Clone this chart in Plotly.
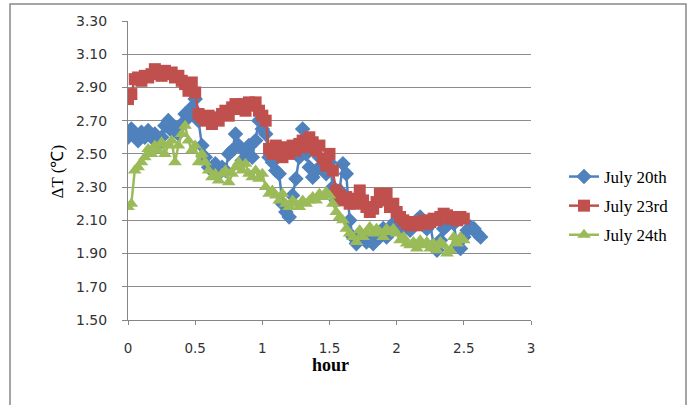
import plotly.graph_objects as go

STEP = 0.025  # hours between samples

july20 = [2.60, 2.65, 2.62, 2.58, 2.63, 2.60, 2.64, 2.60, 2.62, 2.56,
          2.60, 2.67, 2.70, 2.64, 2.66, 2.62, 2.68, 2.74, 2.72, 2.78,
          2.83, 2.70, 2.55, 2.48, 2.42, 2.40, 2.44, 2.38, 2.42, 2.40,
          2.50, 2.52, 2.62, 2.55, 2.46, 2.52, 2.55, 2.48, 2.58, 2.70,
          2.65, 2.62, 2.48, 2.45, 2.40, 2.38, 2.20, 2.15, 2.12, 2.25,
          2.35, 2.48, 2.65, 2.50, 2.42, 2.36, 2.40, 2.48, 2.42, 2.38,
          2.45, 2.30, 2.22, 2.28, 2.44, 2.38, 2.10, 2.00, 1.96, 2.02,
          2.00, 1.97, 1.98, 1.96, 2.02, 2.00, 2.05, 2.00, 2.04, 2.08,
          2.10, 2.05, 2.08, 2.06, 2.04, 2.08, 2.10, 2.12, 2.07, 2.05,
          2.08, 1.95, 1.92, 1.98, 2.05, 2.07, 2.10, 2.08, 1.95, 1.93,
          2.00, 2.04, 2.06, 2.05, 2.02, 2.00]

july23 = [2.83, 2.86, 2.95, 2.96, 2.94, 2.97, 2.96, 2.98, 3.01, 2.99,
          2.97, 3.00, 2.98, 2.99, 2.96, 2.97, 2.94, 2.92, 2.88, 2.93,
          2.87, 2.74, 2.72, 2.70, 2.73, 2.68, 2.72, 2.70, 2.74, 2.76,
          2.73, 2.78, 2.80, 2.77, 2.80, 2.76, 2.81, 2.79, 2.81, 2.76,
          2.73, 2.70, 2.53, 2.50, 2.55, 2.52, 2.48, 2.54, 2.50, 2.55,
          2.52, 2.56, 2.58, 2.54, 2.60, 2.57, 2.52, 2.55, 2.47, 2.43,
          2.50, 2.40, 2.28, 2.25, 2.22, 2.24, 2.20, 2.23, 2.20, 2.28,
          2.22, 2.18, 2.15, 2.17, 2.21, 2.26, 2.22, 2.26, 2.18, 2.20,
          2.15, 2.12, 2.10, 2.08, 2.07, 2.09, 2.07, 2.08, 2.10, 2.08,
          2.09, 2.11, 2.10, 2.12, 2.14, 2.13, 2.11, 2.12, 2.10, 2.12,
          2.11]

july24 = [2.18, 2.20, 2.40, 2.42, 2.45, 2.48, 2.53, 2.50, 2.55, 2.52,
          2.57, 2.50, 2.55, 2.58, 2.45, 2.55, 2.62, 2.67, 2.58, 2.52,
          2.55, 2.45, 2.50, 2.45, 2.40, 2.36, 2.38, 2.34, 2.38, 2.40,
          2.33, 2.38, 2.42, 2.45, 2.40, 2.44, 2.38, 2.36, 2.40, 2.35,
          2.38, 2.30, 2.26, 2.28, 2.25, 2.22, 2.26, 2.20, 2.18, 2.22,
          2.20, 2.18, 2.22, 2.20, 2.22, 2.24, 2.22, 2.26, 2.24, 2.27,
          2.25, 2.20, 2.15, 2.12, 2.10, 2.05, 2.02, 2.00, 1.97, 2.04,
          2.00, 2.03, 2.06, 2.02, 2.05, 2.03, 2.00, 2.05, 2.03, 2.05,
          2.02, 1.98, 2.00, 1.96, 1.95, 1.97, 1.93, 1.98, 1.95, 1.97,
          1.93, 1.96, 1.92, 1.97, 1.95, 1.90, 1.92, 2.00, 1.96, 2.00,
          1.98]

series_names = ["July 20th", "July 23rd", "July 24th"]
y_ticks = [1.50, 1.70, 1.90, 2.10, 2.30, 2.50, 2.70, 2.90, 3.10, 3.30]
x_ticks = [0, 0.5, 1, 1.5, 2, 2.5, 3]


def hours(vals):
    return [round(i * STEP, 4) for i in range(len(vals))]


styles = [
    dict(color="#4F81BD", symbol="diamond", size=12),
    dict(color="#C0504D", symbol="square", size=12),
    dict(color="#9BBB59", symbol="triangle-up", size=12),
]

fig = go.Figure()
for i, (name, vals) in enumerate(zip(series_names, [july20, july23, july24])):
    st = styles[i]
    fig.add_trace(go.Scatter(
        x=hours(vals), y=vals, name=name, mode="lines+markers",
        legendgroup=name,
        line=dict(color=st["color"], width=2.5),
        marker=dict(color=st["color"], symbol=st["symbol"], size=st["size"],
                    line=dict(width=0)),
    ))

L, R, T, B = 128, 531, 21, 320
W, H = 688, 405
pw, ph = R - L, B - T


def px_x(x):
    return (x - L) / pw


def px_y(y):
    return (B - y) / ph


fig.update_layout(
    width=W, height=H,
    margin=dict(l=L, r=W - R, t=T, b=H - B, autoexpand=False),
    paper_bgcolor="white", plot_bgcolor="white",
    showlegend=True,
    legend=dict(x=px_x(564), y=px_y(206), xanchor="left", yanchor="middle",
                font=dict(family="Liberation Serif", size=17, color="black"),
                tracegroupgap=4, bgcolor="rgba(0,0,0,0)"),
    xaxis=dict(range=[0, 3], tickvals=x_ticks, ticktext=[str(t) for t in x_ticks],
               showgrid=False, zeroline=False,
               showline=True, linecolor="#868686", linewidth=1,
               ticks="outside", ticklen=4, tickcolor="#868686",
               tickfont=dict(family="DejaVu Sans", size=13.5, color="#333333"),
               ticklabelstandoff=12),
    yaxis=dict(range=[1.5, 3.3], tickvals=y_ticks,
               ticktext=[f"{t:.2f}" for t in y_ticks],
               showgrid=True, gridcolor="#8c8c8c", gridwidth=1, zeroline=False,
               showline=True, linecolor="#868686", linewidth=1,
               ticks="outside", ticklen=5, tickcolor="#868686",
               tickfont=dict(family="DejaVu Sans", size=14, color="#333333"),
               ticklabelstandoff=12),
    annotations=[
        dict(text="ΔT (℃)", x=px_x(45), y=px_y(172), xref="paper", yref="paper",
             showarrow=False, textangle=-90,
             font=dict(family="Liberation Serif", size=17, color="black")),
        dict(text="<b>hour</b>", x=px_x(330), y=px_y(377), xref="paper", yref="paper",
             showarrow=False,
             font=dict(family="Liberation Serif", size=18, color="black")),
    ],
    shapes=[
        dict(type="rect", xref="paper", yref="paper",
             x0=px_x(10), x1=px_x(686), y0=px_y(410), y1=px_y(4),
             line=dict(color="#888888", width=1.5), fillcolor="rgba(0,0,0,0)",
             layer="below"),
    ],
)

fig.write_html("out.html", config={"displayModeBar": False},
               post_script="document.body.style.margin='0';")
